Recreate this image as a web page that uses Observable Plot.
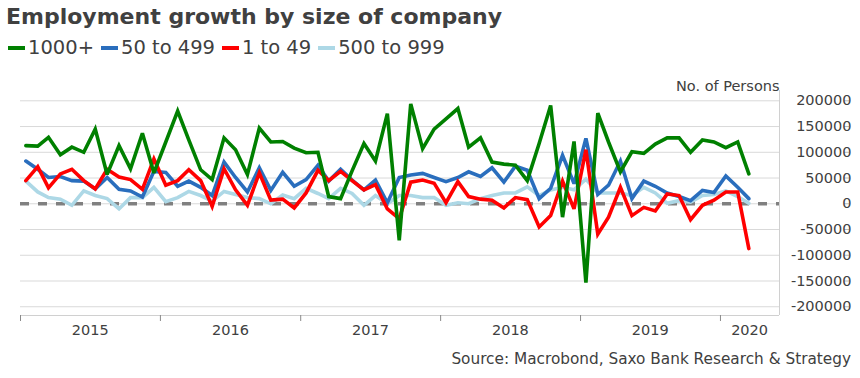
<!DOCTYPE html>
<html>
<head>
<meta charset="utf-8">
<script src="https://cdn.jsdelivr.net/npm/d3@7"></script>
<script src="https://cdn.jsdelivr.net/npm/@observablehq/plot@0.6"></script>
<style>
  html, body { margin: 0; padding: 0; background: #fff; }
  body { width: 860px; height: 378px; overflow: hidden; font-family: "DejaVu Sans", Verdana, sans-serif; color: #404040; }
  #head { height: 62px; position: relative; }
  #title { position: absolute; left: 6px; top: 4px; font-size: 22px; font-weight: bold; color: #404040; white-space: nowrap; }
  #legend { position: absolute; left: 8px; top: 36px; display: flex; align-items: center; font-size: 19.5px; color: #404040; white-space: nowrap; }
  .item { display: flex; align-items: center; margin-right: 7px; }
  .sw { width: 17px; height: 4px; margin-right: 3px; }
  #caption { text-align: right; padding-right: 9px; font-size: 15.3px; line-height: 14px; color: #404040; white-space: nowrap; }
  svg { display: block; }
</style>
</head>
<body>
<div id="head">
  <div id="title">Employment growth by size of company</div>
  <div id="legend"></div>
</div>
<div id="chart"></div>
<div id="caption">Source: Macrobond, Saxo Bank Research &amp; Strategy</div>
<script>
// Series names and colours (legend order)
const seriesNames = ["1000+", "50 to 499", "1 to 49", "500 to 999"];
const seriesColors = ["#008000", "#2a6ebd", "#ff0000", "#add8e6"];

// Monthly values, Jan 2015 .. Mar 2020
const large1000 = [113000,112000,129000,95000,110000,100000,145000,57000,113000,68000,137000,60000,
  120000,180000,124000,66000,47000,128000,105000,57000,147000,120000,121000,108000,
  99000,100000,14000,10000,64000,117000,83000,175000,-71000,194000,107000,145000,
  165000,185000,110000,128000,81000,77000,75000,45000,117000,191000,-26000,121000,
  -153000,176000,120000,62000,101000,98000,116000,128000,128000,100000,124000,120000,
  109000,120000,58000];
const mid50to499 = [83000,67000,51000,53000,45000,44000,29000,51000,28000,25000,13000,63000,
  61000,34000,44000,32000,16000,81000,51000,23000,70000,26000,61000,34000,
  47000,75000,44000,67000,46000,27000,46000,2000,51000,56000,59000,51000,
  43000,51000,62000,53000,70000,42000,73000,65000,10000,30000,94000,39000,
  127000,18000,36000,83000,10000,44000,34000,21000,14000,6000,26000,22000,
  54000,32000,10000];
const small1to49 = [45000,72000,31000,58000,67000,45000,29000,67000,52000,47000,28000,87000,
  36000,45000,66000,45000,-5000,68000,27000,-3000,60000,7000,9000,-8000,
  21000,65000,45000,63000,45000,27000,37000,-10000,-29000,42000,46000,40000,
  2000,43000,14000,9000,7000,-8000,12000,8000,-45000,-23000,44000,-10000,
  105000,-59000,-26000,32000,-23000,-7000,-14000,19000,16000,-31000,-3000,7000,
  23000,23000,-87000];
const mid500to999 = [44000,23000,12000,9000,-3000,25000,16000,10000,-10000,12000,12000,32000,
  4000,12000,24000,16000,5000,24000,18000,12000,10000,0,17000,10000,
  30000,20000,10000,30000,20000,-3000,16000,0,16000,16000,12000,12000,
  -3000,2000,0,10000,16000,21000,21000,33000,16000,27000,32000,27000,
  48000,21000,21000,21000,16000,32000,21000,1000,6000,3000,16000,18000,
  25000,14000,1000];

const seriesValues = [large1000, mid50to499, small1to49, mid500to999];

// Months (mid-month), Jan 2015 .. Mar 2020
const months = d3.utcMonth.range(new Date("2015-01-01"), new Date("2020-04-01"))
  .map(d => new Date(Date.UTC(d.getUTCFullYear(), d.getUTCMonth(), 15)));

// Axis config
const xDomain = [new Date("2015-01-01"), new Date("2020-06-03")];
const yDomain = [-217000, 220000];
const yTicks = [-200000, -150000, -100000, -50000, 0, 50000, 100000, 150000, 200000];
const yearTicks = ["2015-01-01","2016-01-01","2017-01-01","2018-01-01","2019-01-01","2020-01-01"].map(s => new Date(s));
const yearLabels = ["2015", "2016", "2017", "2018", "2019", "2020"];
const yearLabelDates = ["2015-07-02","2016-07-02","2017-07-02","2018-07-02","2019-07-02","2020-03-17"].map(s => new Date(s));

// Build long table
const rows = [];
seriesNames.forEach((name, s) => {
  seriesValues[s].forEach((v, i) => rows.push({date: months[i], value: v, series: name}));
});
const labelRows = yearLabels.map((t, i) => ({date: yearLabelDates[i], text: t}));

// Legend
const legend = document.getElementById("legend");
seriesNames.forEach((n, i) => {
  const it = document.createElement("div");
  it.className = "item";
  it.innerHTML = `<span class="sw" style="background:${seriesColors[i]}"></span><span>${n}</span>`;
  legend.appendChild(it);
});

const drawOrder = ["500 to 999", "50 to 499", "1 to 49", "1000+"];

const chart = Plot.plot({
  width: 860,
  height: 290,
  marginLeft: 20,
  marginRight: 81,
  marginTop: 28,
  marginBottom: 37,
  style: {fontFamily: "DejaVu Sans, Verdana, sans-serif", fontSize: "14.5px", color: "#404040", background: "#fff"},
  x: {type: "utc", domain: xDomain},
  y: {domain: yDomain},
  color: {domain: seriesNames, range: seriesColors},
  marks: [
    Plot.gridY(yTicks, {stroke: "#d9d9d9", strokeOpacity: 1, strokeWidth: 1}),
    Plot.ruleY([yDomain[0]], {stroke: "#d0d0d0", strokeWidth: 1}),
    Plot.ruleX([xDomain[1]], {stroke: "#d0d0d0", strokeWidth: 1}),
    Plot.axisX({ticks: yearTicks, tickSize: 6, tickFormat: () => "", stroke: "#8a8a8a"}),
    Plot.text(labelRows, {x: "date", text: "text", frameAnchor: "bottom", dy: 19, fill: "#404040", fontSize: 14.5}),
    Plot.axisY({anchor: "right", ticks: yTicks, tickSize: 5, tickPadding: 3, textAnchor: "end", dx: 64,
      tickFormat: d => String(d), stroke: "#bbbbbb", fill: "#404040", label: null}),
    Plot.ruleY([0], {stroke: "#808080", strokeWidth: 3.5, strokeDasharray: "9,9"}),
    ...drawOrder.map(name => Plot.line(rows.filter(r => r.series === name),
      {x: "date", y: "value", stroke: "series", strokeWidth: 3.6, strokeLinejoin: "miter", strokeMiterlimit: 3})),
    Plot.text(["No. of Persons"], {frameAnchor: "top-right", textAnchor: "end", dy: -10, dx: 0, fill: "#404040", fontSize: 14.5})
  ]
});
document.getElementById("chart").appendChild(chart);
</script>
</body>
</html>
